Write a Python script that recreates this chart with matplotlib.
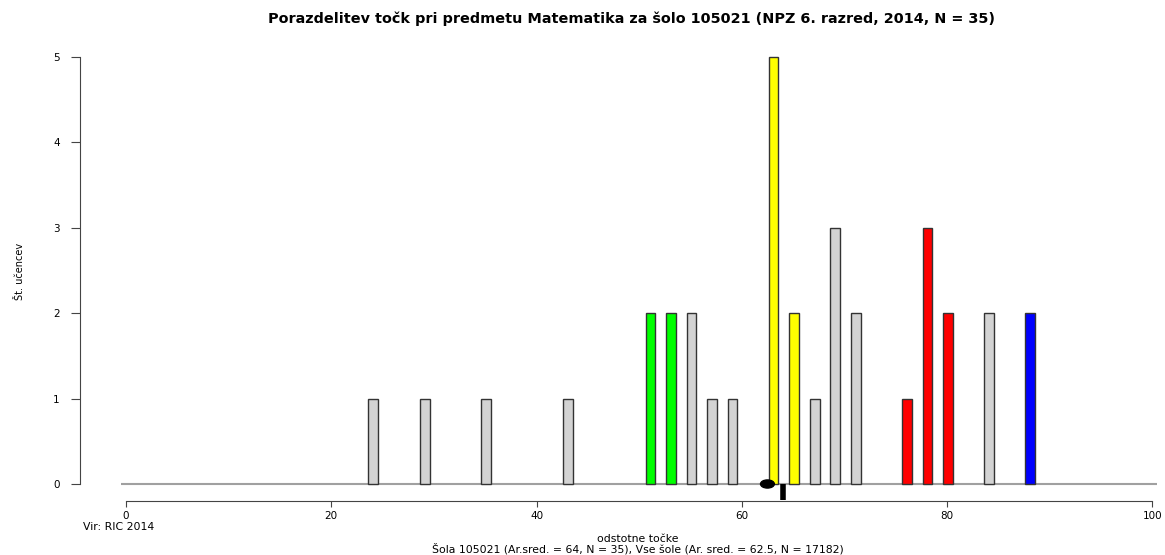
import matplotlib
matplotlib.use('Agg')
import matplotlib.pyplot as plt
from matplotlib.patches import Ellipse

plt.rcParams['font.family'] = ['DejaVu Sans']

# points (%), number of students, bar colour
points = [24.1, 29.1, 35.1, 43.1, 51.1, 53.1, 55.1, 57.1, 59.1, 63.1,
          65.1, 67.1, 69.1, 71.1, 76.1, 78.1, 80.1, 84.1, 88.1]
counts = [1, 1, 1, 1, 2, 2, 2, 1, 1, 5, 2, 1, 3, 2, 1, 3, 2, 2, 2]
colors = ['lightgray', 'lightgray', 'lightgray', 'lightgray', '#00ff00', '#00ff00',
          'lightgray', 'lightgray', 'lightgray', '#ffff00', '#ffff00', 'lightgray',
          'lightgray', 'lightgray', '#ff0000', '#ff0000', '#ff0000', 'lightgray', '#0000ff']
school_mean = 64
all_mean = 62.5

W, H = 1165, 555
fig = plt.figure(figsize=(W / 100, H / 100), dpi=100)
# axes: left edge at px 80, x 0 -> px 126, x 100 -> px 1152; y 0 -> px 484, y 5 -> px 57
sx = (1152.3 - 126) / 100
sy = (484 - 57) / 5
x0 = 0 - (126 - 80) / sx
x1 = x0 + (1160 - 80) / sx
ybot = -(501 - 484) / sy
ytop = 5 + (57 - 50) / sy
ax = fig.add_axes([80 / W, 1 - 501 / H, (1160 - 80) / W, (501 - 50) / H])
ax.set_xlim(x0, x1)
ax.set_ylim(ybot, ytop)

ax.hlines(0, -0.5, 100.5, color='#a0a0a0', lw=1.5, zorder=1)
ax.bar(points, counts, width=0.95, color=colors, edgecolor='#333333', lw=1, zorder=2)

ax.add_patch(Ellipse((all_mean, 0), 1.35, 0.095, color='black', zorder=4))
ax.plot([school_mean, school_mean], [0, ybot + 0.01], color='black', lw=4, zorder=4,
        solid_capstyle='butt')

for s in ['top', 'right']:
    ax.spines[s].set_visible(False)
ax.spines['left'].set_bounds(0, 5)
ax.spines['bottom'].set_bounds(0, 100)
ax.spines['left'].set_color('#444444')
ax.spines['bottom'].set_color('#444444')
ax.set_xticks(range(0, 101, 20))
ax.set_yticks(range(0, 6))
ax.tick_params(axis='x', labelsize=7.5, length=4, color='#444444', pad=3)
ax.tick_params(axis='y', labelsize=7.5, length=6.5, color='#444444', pad=8)

ax.set_title('Porazdelitev točk pri predmetu Matematika za šolo 105021 (NPZ 6. razred, 2014, N = 35)',
             fontsize=10.4, fontweight='bold', x=(631 - 80) / 1080, y=1 + (50 - 19) / 451,
             va='center', pad=0)
fig.text(20 / W, 1 - 271 / H, 'Št. učencev', rotation=90, fontsize=7, ha='center', va='center')
fig.text(83 / W, 1 - 527 / H, 'Vir: RIC 2014', fontsize=7.8, ha='left', va='center')
fig.text(638 / W, 1 - 539 / H, 'odstotne točke', fontsize=7.8, ha='center', va='center')
fig.text(638 / W, 1 - 549 / H, 'Šola 105021 (Ar.sred. = 64, N = 35), Vse šole (Ar. sred. = 62.5, N = 17182)',
         fontsize=7.8, ha='center', va='center')

fig.savefig('out.png', dpi=100)
